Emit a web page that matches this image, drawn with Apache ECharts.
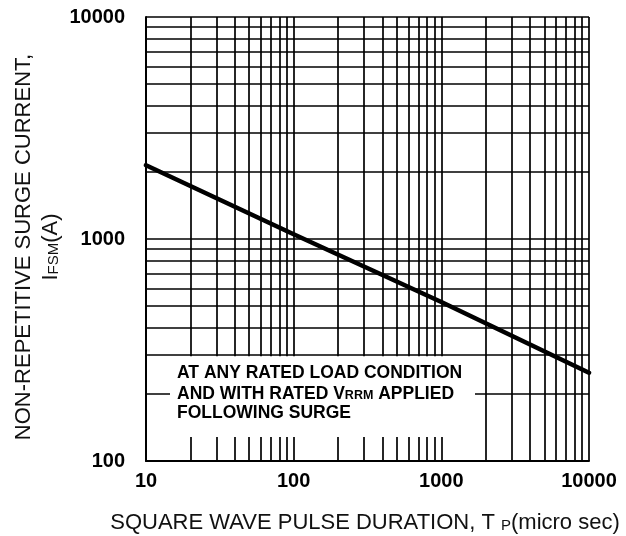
<!DOCTYPE html>
<html><head><meta charset="utf-8">
<script src="https://cdn.jsdelivr.net/npm/echarts@6/dist/echarts.min.js"></script>
<style>html,body{margin:0;padding:0;background:#fff}#c{width:626px;height:536px}</style>
</head><body><div id="c"></div>
<script>
// ---- data ----
const pulseDuration = [10, 100, 1000, 10000];        // T_P (micro sec)
const surgeCurrent  = [2150, 1050, 520, 250];         // I_FSM (A)
const xTickLabels = ['10', '100', '1000', '10000'];
const yTickLabels = ['100', '1000', '10000'];
const xGridValues = [20,30,40,50,60,70,80,90,100,200,300,400,500,600,700,800,900,1000,2000,3000,4000,5000,6000,7000,8000,9000,10000];
const yGridValues = [200,300,400,500,600,700,800,900,1000,2000,3000,4000,5000,6000,7000,8000,9000,10000];

const FONT = '"Liberation Sans", Arial, Helvetica, sans-serif';
const TXT = '#111';
const chart = echarts.init(document.getElementById('c'), null, {renderer: 'canvas'});

function labelFor(list) {
  return function (v) {
    const s = String(Math.round(v));
    return list.indexOf(s) >= 0 ? s : '';
  };
}

const gridMarks = xGridValues.map(v => ({xAxis: v})).concat(yGridValues.map(v => ({yAxis: v})));

chart.setOption({
  animation: false,
  backgroundColor: '#fff',
  grid: {left: 146, right: 37, top: 17, bottom: 75, containLabel: false, outerBoundsMode: 'none'},
  xAxis: {
    type: 'log', logBase: 10, min: 10, max: 10000, interval: 1,
    axisLine: {show: true, lineStyle: {color: '#000', width: 2}},
    axisTick: {show: false},
    splitLine: {show: false},
    minorSplitLine: {show: false},
    axisLabel: {color: '#000', fontFamily: FONT, fontWeight: 'bold', fontSize: 20, margin: 10, formatter: labelFor(xTickLabels)}
  },
  yAxis: {
    type: 'log', logBase: 10, min: 100, max: 10000, interval: 1,
    axisLine: {show: true, lineStyle: {color: '#000', width: 2}},
    axisTick: {show: false},
    splitLine: {show: false},
    axisLabel: {color: '#000', fontFamily: FONT, fontWeight: 'bold', fontSize: 20, margin: 21, formatter: labelFor(yTickLabels)}
  },
  series: [
    {
      type: 'line', z: 1, data: [], silent: true,
      markLine: {
        silent: true, symbol: ['none', 'none'], animation: false,
        label: {show: false},
        lineStyle: {color: '#000', width: 1.7, type: 'solid', opacity: 1},
        emphasis: {disabled: true},
        data: gridMarks
      }
    },
    {
      type: 'line', z: 5, showSymbol: false, symbol: 'none', silent: true,
      lineStyle: {color: '#000', width: 4.5, cap: 'round'},
      data: pulseDuration.map((x, i) => [x, surgeCurrent[i]])
    }
  ],
  graphic: [
    {type: 'rect', z: 100, shape: {x: 170, y: 356.2, width: 305, height: 80.8}, style: {fill: '#fff'}},
    {type: 'text', z: 101, x: 177, y: 373,
      style: {text: 'AT ANY RATED LOAD CONDITION', font: 'bold 17.5px ' + FONT, fill: '#000', align: 'left', verticalAlign: 'middle', textAlign: 'left', textVerticalAlign: 'middle'}},
    {type: 'text', z: 101, x: 177, y: 393,
      style: {text: '{b|AND WITH RATED V}{s|RRM}{b| APPLIED}', fill: '#000', align: 'left', verticalAlign: 'middle', textAlign: 'left', textVerticalAlign: 'middle',
        rich: {b: {font: 'bold 17.5px ' + FONT, fill: '#000', lineHeight: 20, verticalAlign: 'bottom'},
               s: {font: 'bold 12.5px ' + FONT, fill: '#000', lineHeight: 20, verticalAlign: 'bottom', padding: [0, 0, 1, 0]}}}},
    {type: 'text', z: 101, x: 177, y: 413,
      style: {text: 'FOLLOWING SURGE', font: 'bold 17.5px ' + FONT, fill: '#000', align: 'left', verticalAlign: 'middle', textAlign: 'left', textVerticalAlign: 'middle'}},
    {type: 'text', z: 101, x: 365, y: 522,
      style: {text: '{n|SQUARE WAVE PULSE DURATION, T }{s|P}{n|(micro sec)}', fill: TXT, align: 'center', verticalAlign: 'middle', textAlign: 'center', textVerticalAlign: 'middle',
        rich: {n: {font: '22px ' + FONT, fill: TXT, lineHeight: 24, verticalAlign: 'bottom'},
               s: {font: '15px ' + FONT, fill: TXT, lineHeight: 24, verticalAlign: 'bottom', padding: [0, 0, 1, 0]}}}},
    {type: 'text', z: 101, x: 24, y: 247, rotation: Math.PI / 2,
      style: {text: 'NON-REPETITIVE SURGE CURRENT,', font: '22px ' + FONT, fill: TXT, align: 'center', verticalAlign: 'middle', textAlign: 'center', textVerticalAlign: 'middle'}},
    {type: 'text', z: 101, x: 50, y: 247, rotation: Math.PI / 2,
      style: {text: '{n|I}{s|FSM}{n|(A)}', fill: TXT, align: 'center', verticalAlign: 'middle', textAlign: 'center', textVerticalAlign: 'middle',
        rich: {n: {font: '22px ' + FONT, fill: TXT, lineHeight: 24, verticalAlign: 'bottom'},
               s: {font: '15px ' + FONT, fill: TXT, lineHeight: 24, verticalAlign: 'bottom', padding: [0, 0, 1, 0]}}}}
  ]
});
</script>
</body></html>
